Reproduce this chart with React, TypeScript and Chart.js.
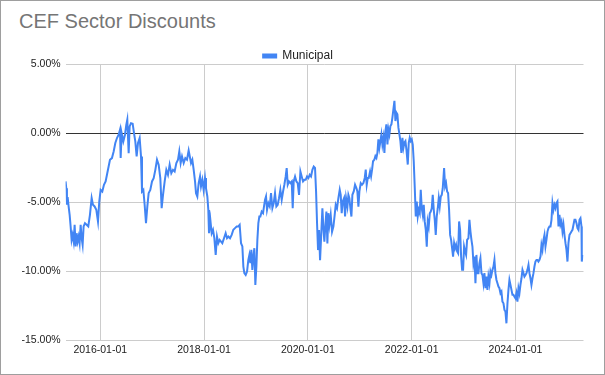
import { useEffect, useRef } from "react";
import { Chart, registerables } from "chart.js";

Chart.register(...registerables);

const chartTitle = "CEF Sector Discounts";
const seriesName = "Municipal";
const tickYears = [2016, 2018, 2020, 2022, 2024];
const yTicks = [5, 0, -5, -10, -15];

// decimal year of each observation
const years = [
  2015.332, 2015.345, 2015.358, 2015.371, 2015.39, 2015.41, 2015.429, 2015.448, 2015.467, 2015.487,
  2015.506, 2015.525, 2015.544, 2015.564, 2015.583, 2015.602, 2015.622, 2015.641, 2015.66, 2015.679,
  2015.705, 2015.737, 2015.769, 2015.801, 2015.834, 2015.859, 2015.891, 2015.924, 2015.956, 2015.981,
  2016.007, 2016.039, 2016.071, 2016.103, 2016.129, 2016.161, 2016.187, 2016.225, 2016.258, 2016.29,
  2016.322, 2016.354, 2016.38, 2016.393, 2016.412, 2016.444, 2016.476, 2016.502, 2016.521, 2016.547,
  2016.566, 2016.592, 2016.624, 2016.65, 2016.675, 2016.701, 2016.727, 2016.759, 2016.785, 2016.804,
  2016.83, 2016.855, 2016.881, 2016.907, 2016.932, 2016.964, 2016.997, 2017.029, 2017.061, 2017.093,
  2017.125, 2017.157, 2017.183, 2017.209, 2017.241, 2017.273, 2017.305, 2017.337, 2017.369, 2017.401,
  2017.433, 2017.466, 2017.498, 2017.523, 2017.549, 2017.575, 2017.607, 2017.639, 2017.671, 2017.703,
  2017.749, 2017.774, 2017.8, 2017.826, 2017.845, 2017.87, 2017.896, 2017.922, 2017.941, 2017.967,
  2017.992, 2018.018, 2018.037, 2018.063, 2018.082, 2018.095, 2018.121, 2018.147, 2018.172, 2018.198,
  2018.224, 2018.249, 2018.275, 2018.301, 2018.327, 2018.352, 2018.384, 2018.416, 2018.442, 2018.468,
  2018.5, 2018.532, 2018.564, 2018.596, 2018.628, 2018.661, 2018.686, 2018.712, 2018.738, 2018.757,
  2018.776, 2018.802, 2018.828, 2018.853, 2018.873, 2018.892, 2018.911, 2018.93, 2018.95, 2018.969,
  2018.988, 2019.008, 2019.027, 2019.046, 2019.065, 2019.085, 2019.11, 2019.136, 2019.155, 2019.175,
  2019.194, 2019.213, 2019.239, 2019.265, 2019.29, 2019.316, 2019.342, 2019.367, 2019.393, 2019.419,
  2019.444, 2019.47, 2019.496, 2019.522, 2019.547, 2019.573, 2019.592, 2019.612, 2019.637, 2019.663,
  2019.689, 2019.708, 2019.727, 2019.753, 2019.779, 2019.804, 2019.83, 2019.856, 2019.881, 2019.907,
  2019.933, 2019.958, 2019.984, 2020.01, 2020.036, 2020.061, 2020.087, 2020.113,
  2020.138, 2020.158, 2020.177, 2020.196, 2020.215, 2020.235, 2020.254, 2020.28, 2020.299, 2020.318,
  2020.338, 2020.357, 2020.376, 2020.395, 2020.415, 2020.44, 2020.466, 2020.492, 2020.517, 2020.537,
  2020.562, 2020.588, 2020.614, 2020.633, 2020.652, 2020.672, 2020.697, 2020.717, 2020.736, 2020.762,
  2020.781, 2020.8, 2020.819, 2020.839, 2020.858, 2020.884, 2020.909, 2020.935, 2020.954, 2020.974,
  2020.993, 2021.019, 2021.044, 2021.07, 2021.096, 2021.115, 2021.134, 2021.154, 2021.173, 2021.199,
  2021.218, 2021.237, 2021.256, 2021.282, 2021.301, 2021.321, 2021.34, 2021.359, 2021.378, 2021.398,
  2021.417, 2021.436, 2021.456, 2021.475, 2021.494, 2021.513, 2021.533, 2021.552, 2021.571, 2021.59,
  2021.61, 2021.629, 2021.648, 2021.668, 2021.687, 2021.706, 2021.725, 2021.745, 2021.764, 2021.783,
  2021.802, 2021.822, 2021.841, 2021.86, 2021.88, 2021.899, 2021.925, 2021.944, 2021.963, 2021.982,
  2022.002, 2022.021, 2022.04, 2022.06, 2022.079, 2022.098, 2022.117, 2022.137, 2022.156, 2022.175,
  2022.194, 2022.214, 2022.233, 2022.252, 2022.272, 2022.291, 2022.31, 2022.329, 2022.349, 2022.368,
  2022.387, 2022.406, 2022.426, 2022.445, 2022.464, 2022.483, 2022.503, 2022.522,
  2022.541, 2022.561, 2022.58, 2022.599, 2022.625, 2022.644, 2022.663, 2022.683, 2022.702, 2022.721,
  2022.741, 2022.76, 2022.779, 2022.798, 2022.818, 2022.837, 2022.856, 2022.876, 2022.895, 2022.914,
  2022.933, 2022.953, 2022.972, 2022.991, 2023.01, 2023.03, 2023.049, 2023.068, 2023.094, 2023.113,
  2023.133, 2023.152, 2023.171, 2023.19, 2023.21, 2023.229, 2023.248, 2023.267, 2023.287, 2023.306,
  2023.325, 2023.345, 2023.364, 2023.383, 2023.402, 2023.422, 2023.441, 2023.46, 2023.479, 2023.499,
  2023.518, 2023.537, 2023.557, 2023.576, 2023.595, 2023.614, 2023.634, 2023.653, 2023.672, 2023.691,
  2023.711, 2023.73, 2023.749, 2023.769, 2023.788, 2023.807, 2023.826, 2023.846, 2023.865, 2023.884,
  2023.904, 2023.923, 2023.942, 2023.961, 2023.981, 2024.0, 2024.019, 2024.038, 2024.058, 2024.077,
  2024.096, 2024.116, 2024.135, 2024.154, 2024.173, 2024.193, 2024.212, 2024.231, 2024.251, 2024.27,
  2024.289, 2024.308, 2024.328, 2024.347, 2024.366, 2024.385, 2024.405, 2024.424, 2024.443, 2024.463,
  2024.482, 2024.501, 2024.52, 2024.54, 2024.559, 2024.578, 2024.597, 2024.617, 2024.636, 2024.655,
  2024.675, 2024.694, 2024.713, 2024.732, 2024.752, 2024.771, 2024.79, 2024.809, 2024.829, 2024.848,
  2024.867, 2024.887, 2024.906, 2024.925, 2024.944, 2024.964, 2024.983, 2025.002, 2025.021, 2025.041,
  2025.06, 2025.079, 2025.099, 2025.118, 2025.137, 2025.156, 2025.176, 2025.195, 2025.214, 2025.234,
  2025.253, 2025.272, 2025.278, 2025.291,
];

// discount (%) of each observation
const discounts = [
  -3.5, -3.99, -5.19, -4.64, -5.31, -5.92, -6.76, -7.73, -7.37, -7.85,
  -6.64, -8.21, -7.25, -7.85, -7.49, -7.97, -6.64, -7.61, -8.09, -6.76,
  -6.52, -6.64, -6.76, -5.92, -4.71, -5.19, -5.31, -5.56, -6.4, -4.95,
  -4.11, -4.23, -3.74, -3.5, -3.02, -2.42, -1.93, -1.81, -1.33, -0.72,
  -0.36, -0.12, 0.24, -1.81, 0.0, -0.6, -0.12, 0.6, 0.97, -1.45,
  0.48, 0.72, 0.68, 0.0, -0.6, -1.69, -0.72, -0.36, -1.69, -4.23,
  -4.11, -5.19, -6.52, -5.31, -4.35, -4.11, -3.5, -3.26, -2.66, -1.93,
  -2.29, -3.26, -5.43, -4.47, -3.5, -2.66, -3.02, -2.29, -2.9, -2.66,
  -2.78, -2.17, -1.93, -1.33, -2.17, -1.69, -2.17, -1.81, -1.93, -1.26,
  -2.17, -1.93, -2.66, -3.5, -4.35, -4.59, -3.62, -3.14, -3.86, -3.38,
  -4.11, -3.26, -3.99, -4.59, -5.56, -7.25, -6.28, -7.25, -7.0, -7.61,
  -8.82, -7.49, -7.97, -7.73, -7.85, -7.97, -7.61, -7.25, -7.61, -7.49,
  -7.61, -7.37, -7.0, -6.88, -6.76, -6.76, -6.64, -7.97, -8.21, -9.66,
  -10.14, -10.27, -10.02, -9.18, -8.82, -9.42, -8.45, -9.9, -8.94, -8.33,
  -10.99, -9.66, -7.73, -6.52, -6.04, -6.04, -5.68, -5.8, -5.31, -4.83,
  -4.59, -5.56, -5.07, -5.31, -4.35, -5.43, -5.07, -4.35, -5.31, -5.19,
  -4.71, -4.11, -4.83, -4.23, -3.74, -3.14, -2.54, -3.74, -3.5, -3.62,
  -3.5, -5.43, -3.5, -3.14, -3.5, -3.62, -4.47, -2.78, -3.14, -3.5,
  -3.38, -3.38, -3.14, -3.26, -3.02, -3.14, -2.66, -2.42,
  -2.52, -4.22, -6.53, -8.47, -7.01, -9.2, -7.62, -5.44, -6.89, -7.86,
  -6.65, -5.68, -7.99, -5.8, -6.65, -5.92, -7.14, -6.77, -5.92, -5.19,
  -5.44, -4.71, -4.1, -4.47, -5.8, -4.95, -4.71, -6.04, -4.71, -5.32,
  -4.47, -4.71, -5.44, -6.04, -4.47, -4.22, -3.74, -3.98, -4.22, -5.32,
  -4.22, -3.62, -3.74, -3.62, -3.25, -2.65, -3.74, -3.25, -3.25, -2.77,
  -3.13, -2.65, -2.04, -1.92, -1.67, -1.8, -1.43, -0.46, -1.07, -0.58,
  -0.1, -0.83, -0.34, -1.43, 0.15, 0.63, -0.83, 0.27, -0.1, 0.51,
  0.63, 1.12, 1.72, 2.33, 0.87, 1.48, 1.36, 0.39, -0.1, -0.58,
  -1.43, -0.34, -1.07, -0.7, -0.58, -1.19, -2.28, -0.7, -0.34, -0.58,
  -0.46, -0.83, -2.04, -3.98, -6.04, -4.95, -6.04, -5.56, -5.8, -4.1,
  -5.44, -5.92, -5.19, -6.41, -7.01, -8.23, -6.41, -6.77, -5.8, -5.68,
  -5.44, -4.47, -5.56, -6.29, -7.38, -6.04, -5.44, -4.71,
  -5.31, -4.59, -4.47, -3.99, -2.54, -3.86, -3.62, -4.23, -4.35, -5.56,
  -7.37, -7.73, -8.33, -8.94, -7.97, -8.33, -8.09, -8.57, -8.7, -6.4,
  -7.0, -8.94, -9.9, -9.9, -8.21, -8.57, -8.82, -7.73, -7.61, -6.28,
  -7.13, -7.73, -8.21, -9.42, -8.94, -10.87, -8.82, -10.14, -10.14, -9.42,
  -9.06, -10.14, -10.27, -10.87, -10.14, -11.23, -10.39, -11.35, -10.39, -10.87,
  -10.02, -10.27, -9.9, -9.66, -9.18, -10.14, -10.63, -10.87, -11.11, -11.23,
  -11.59, -11.47, -12.2, -12.32, -12.8, -12.92, -13.77, -12.32, -11.35, -10.63,
  -10.99, -11.35, -11.71, -11.71, -11.84, -11.96, -11.59, -12.2, -11.23, -11.59,
  -10.99, -10.51, -9.9, -10.14, -10.39, -10.27, -10.14, -9.9, -9.54, -10.14,
  -10.51, -10.99, -10.51, -10.14, -9.66, -9.3, -9.18, -9.18, -9.3, -9.18,
  -8.94, -8.09, -8.45, -7.73, -7.37, -8.21, -7.73, -7.13, -6.88, -6.76,
  -6.76, -6.28, -5.07, -5.56, -5.19, -5.43, -5.07, -4.95, -6.76, -5.92,
  -6.64, -6.4, -7.13, -6.64, -7.37, -7.97, -8.45, -9.3, -7.97, -7.37,
  -7.25, -7.13, -7.0, -6.64, -6.28, -6.28, -6.52, -6.88, -7.0, -6.28,
  -6.16, -6.76, -9.3, -8.82,
];

const FONT = "Arial, 'Liberation Sans', sans-serif";

export default function App() {
  const ref = useRef<HTMLCanvasElement>(null);

  useEffect(() => {
    const canvas = ref.current;
    if (!canvas) return;
    const chart = new Chart(canvas, {
      type: "line",
      data: {
        datasets: [
          {
            label: seriesName,
            data: years.map((x, i) => ({ x, y: discounts[i] })),
            borderColor: "#4285F4",
            backgroundColor: "#4285F4",
            borderWidth: 2,
            pointRadius: 0,
            tension: 0,
          },
        ],
      },
      options: {
        animation: false,
        responsive: false,
        maintainAspectRatio: false,
        layout: { padding: { top: 50, right: 21.5, bottom: 0, left: 12.5 } },
        plugins: {
          title: { display: false },
          tooltip: { enabled: false },
          legend: {
            display: true,
            position: "top",
            align: "center",
            maxHeight: 14,
            labels: {
              boxWidth: 13,
              boxHeight: 3,
              padding: 0,
              color: "#222",
              font: { family: FONT, size: 12 },
            },
          },
        },
        scales: {
          x: {
            type: "linear",
            min: years[0],
            max: years[years.length - 1] + 0.02,
            afterBuildTicks: (s: any) => {
              s.ticks = tickYears.map((v) => ({ value: v }));
            },
            afterFit: (s: any) => {
              s.height = 34.7;
            },
            ticks: {
              autoSkip: false,
              maxRotation: 0,
              padding: 4,
              color: "#222",
              font: { family: FONT, size: 10.5 },
              callback: (v: any) => `${v}-01-01`,
            },
            grid: { color: "#cccccc", drawTicks: false },
            border: { display: false },
          },
          y: {
            min: -15,
            max: 5,
            afterBuildTicks: (s: any) => {
              s.ticks = yTicks.map((v) => ({ value: v }));
            },
            afterFit: (s: any) => {
              s.width = 53.1;
            },
            ticks: {
              padding: 5,
              color: "#222",
              font: { family: FONT, size: 10.5 },
              callback: (v: any) => `${Number(v).toFixed(2)}%`,
            },
            grid: {
              drawTicks: false,
              color: (c: any) => (c.tick && c.tick.value === 0 ? "#333333" : "#cccccc"),
            },
            border: { display: false },
          },
        },
      },
    });
    return () => chart.destroy();
  }, []);

  return (
    <div style={{ position: "fixed", left: 0, top: 0, width: 605, height: 375, background: "#fff" }}>
      <div
        style={{
          position: "absolute",
          left: 0,
          top: 0,
          width: 605,
          height: 375,
          boxSizing: "border-box",
          border: "1px solid #9e9e9e",
        }}
      />
      <div
        style={{
          position: "absolute",
          left: 19,
          top: 9,
          fontFamily: FONT,
          fontSize: 20,
          lineHeight: "24px",
          color: "#757575",
          whiteSpace: "nowrap",
        }}
      >
        {chartTitle}
      </div>
      <canvas ref={ref} width={605} height={375} style={{ position: "absolute", left: 0, top: 0, width: 605, height: 375 }} />
    </div>
  );
}
